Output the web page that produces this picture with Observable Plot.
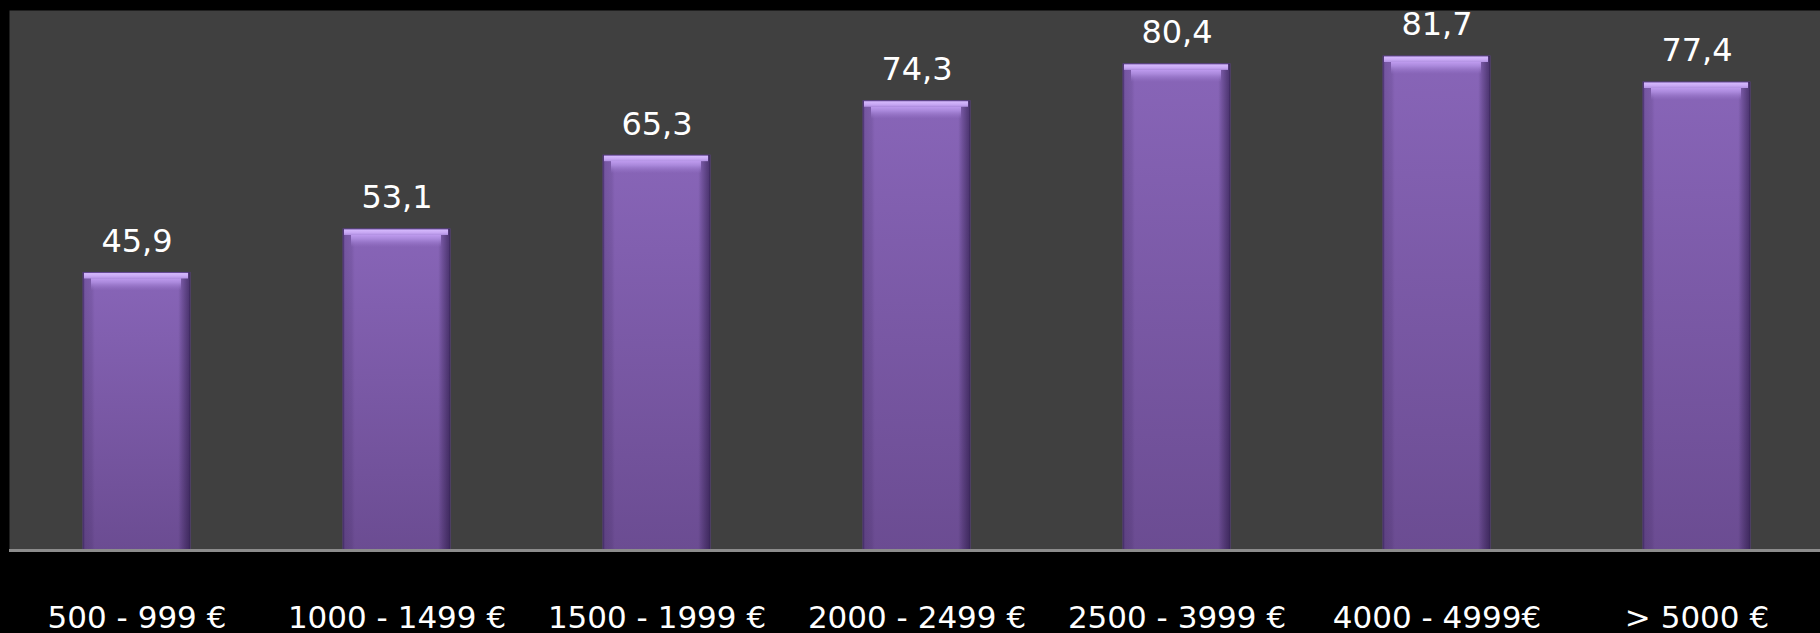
<!DOCTYPE html>
<html>
<head>
<meta charset="utf-8">
<script src="https://cdn.jsdelivr.net/npm/d3@7"></script>
<script src="https://cdn.jsdelivr.net/npm/@observablehq/plot@0.6"></script>
<style>
  html, body { margin: 0; padding: 0; background: #000; }
  #chart svg { display: block; }
</style>
</head>
<body>
<div id="chart"></div>
<script>
const categories = ["500 - 999 €", "1000 - 1499 €", "1500 - 1999 €", "2000 - 2499 €", "2500 - 3999 €", "4000 - 4999€", "> 5000 €"];
const values = [45.9, 53.1, 65.3, 74.3, 80.4, 81.7, 77.4];
const valueLabels = ["45,9", "53,1", "65,3", "74,3", "80,4", "81,7", "77,4"];

const data = categories.map((c, i) => ({cat: c, value: values[i], label: valueLabels[i]}));

const defs = () => {
  const d = d3.create("svg:defs");
  const body = d.append("linearGradient").attr("id", "body").attr("x1", 0).attr("y1", 0).attr("x2", 0).attr("y2", 1);
  body.append("stop").attr("offset", "0%").attr("stop-color", "#8865b8");
  body.append("stop").attr("offset", "100%").attr("stop-color", "#6b4c92");
  const sides = d.append("linearGradient").attr("id", "sides").attr("x1", 0).attr("y1", 0).attr("x2", 1).attr("y2", 0);
  [["0%", 0.4], ["2%", 0.16], ["8%", 0.1], ["11%", 0], ["89%", 0], ["93%", 0.22], ["97%", 0.42], ["100%", 0.55]]
    .forEach(([o, a]) => sides.append("stop").attr("offset", o).attr("stop-color", "#1a0d33").attr("stop-opacity", a));
  const cap = d.append("linearGradient").attr("id", "cap").attr("x1", 0).attr("y1", 0).attr("x2", 0).attr("y2", 1);
  [["0%", "#c09cf0", 1], ["35%", "#b08fe2", 0.85], ["100%", "#9a78cc", 0]]
    .forEach(([o, c, a]) => cap.append("stop").attr("offset", o).attr("stop-color", c).attr("stop-opacity", a));
  const edge = d.append("linearGradient").attr("id", "edge").attr("x1", 0).attr("y1", 0).attr("x2", 0).attr("y2", 1);
  [["0%", "#6a4c9c"], ["18%", "#d4b8fc"], ["60%", "#c8a8f4"], ["100%", "#b291e3"]]
    .forEach(([o, c]) => edge.append("stop").attr("offset", o).attr("stop-color", c));
  return d.node();
};

const chart = Plot.plot({
  width: 1820,
  height: 633,
  marginTop: 10,
  marginBottom: 83,
  marginLeft: 9,
  marginRight: 0,
  style: {background: "#000", color: "#fff", overflow: "visible"},
  x: {domain: categories, range: [82.7, 1750.4], paddingInner: 0.59, paddingOuter: 0, label: null},
  y: {domain: [0, 89.3], axis: null},
  marks: [
    defs,
    Plot.frame({fill: "#404040", stroke: null}),
    Plot.barY(data, {x: "cat", y: "value", fill: "url(#body)", stroke: "#5a3f85", strokeWidth: 1}),
    Plot.barY(data, {x: "cat", y: "value", fill: "url(#sides)"}),
    Plot.barY(data, {x: "cat", y1: d => d.value - 3.0, y2: d => d.value - 0.95, fill: "url(#cap)", insetLeft: 8, insetRight: 9}),
    Plot.barY(data, {x: "cat", y1: d => d.value - 1.0, y2: "value", fill: "url(#edge)", insetLeft: 1, insetRight: 2}),
    Plot.ruleY([0], {stroke: "#8c8c8c", strokeWidth: 3}),
    Plot.text(data, {x: "cat", y: "value", text: "label", dy: -21, lineAnchor: "bottom", fill: "#fff",
      fontSize: 32, fontFamily: "DejaVu Sans, Verdana, sans-serif"}),
    Plot.axisX({tickSize: 0, tickPadding: 55, fontSize: 31, fontFamily: "DejaVu Sans, Verdana, sans-serif", fill: "#fff", label: null})
  ]
});
document.getElementById("chart").appendChild(chart);
</script>
</body>
</html>
